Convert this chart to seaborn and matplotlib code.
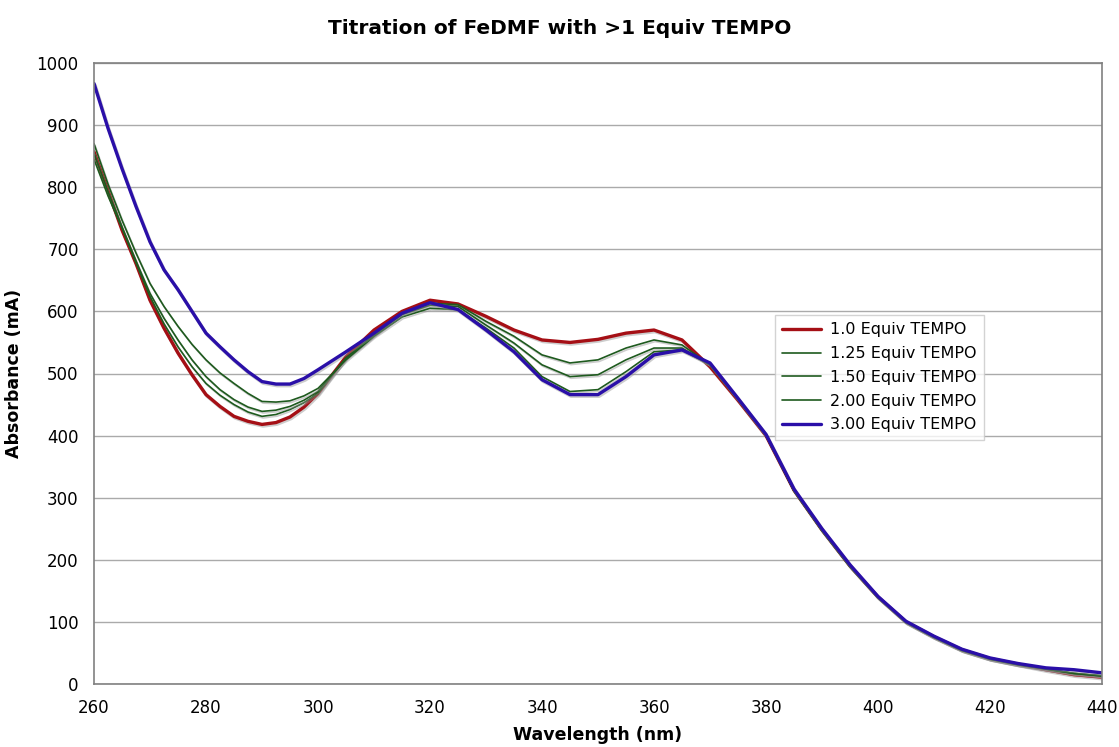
import numpy as np
import pandas as pd
import seaborn as sns
import matplotlib
matplotlib.use("Agg")
import matplotlib.pyplot as plt
import matplotlib.patheffects as pe

wavelength = [260, 262.5, 265, 267.5, 270, 272.5, 275, 277.5, 280, 282.5, 285, 287.5, 290, 292.5, 295, 297.5,
              300, 305, 310, 315, 320, 325, 330, 335, 340, 345, 350, 355, 360, 365, 370, 375, 380, 385, 390,
              395, 400, 405, 410, 415, 420, 425, 430, 435, 440]

equiv_1_00 = [857, 794, 731, 677, 618, 573, 533, 498, 466, 447, 431, 423, 418, 421, 430, 446,
              468, 527, 570, 600, 618, 612, 592, 570, 554, 550, 555, 565, 570, 554, 511, 457, 400, 312, 248,
              190, 140, 100, 76, 55, 41, 32, 23, 15, 11]
equiv_1_25 = [845, 786, 734, 678, 624, 580, 543, 511, 484, 465, 450, 438, 431, 434, 442, 453,
              468, 525, 562, 597, 613, 611, 584, 560, 530, 517, 522, 541, 554, 546, 514, 458, 400, 311, 247,
              189, 139, 99, 75, 54, 40, 31, 24, 17, 13]
equiv_1_50 = [855, 793, 736, 681, 629, 589, 554, 522, 495, 474, 458, 446, 439, 441, 447, 457,
              471, 525, 562, 595, 610, 608, 578, 549, 514, 495, 498, 522, 541, 541, 514, 458, 400, 311, 247,
              189, 139, 99, 75, 54, 40, 31, 24, 17, 13]
equiv_2_00 = [870, 805, 747, 694, 645, 608, 576, 547, 522, 501, 484, 468, 455, 454, 456, 464,
              476, 522, 560, 591, 605, 603, 573, 541, 495, 471, 474, 503, 535, 538, 514, 458, 400, 311, 247,
              189, 139, 99, 75, 54, 40, 31, 24, 17, 13]
equiv_3_00 = [967, 895, 830, 769, 712, 667, 635, 600, 565, 543, 522, 503, 487, 483, 483, 492,
              506, 535, 565, 597, 614, 603, 570, 535, 490, 466, 466, 495, 530, 538, 517, 460, 402, 314, 250,
              192, 141, 101, 77, 56, 42, 33, 26, 23, 18]

series_labels = ["1.0 Equiv TEMPO", "1.25 Equiv TEMPO", "1.50 Equiv TEMPO", "2.00 Equiv TEMPO", "3.00 Equiv TEMPO"]
series_values = [equiv_1_00, equiv_1_25, equiv_1_50, equiv_2_00, equiv_3_00]
series_colors = ["#A50F15", "#1E5A1E", "#1E5A1E", "#1E5A1E", "#2A0FA8"]
series_widths = [2.4, 1.2, 1.2, 1.2, 2.4]

x_ticks = [260, 280, 300, 320, 340, 360, 380, 400, 420, 440]
y_ticks = [0, 100, 200, 300, 400, 500, 600, 700, 800, 900, 1000]

sns.set_style("white")
plt.rcParams['font.family'] = ['DejaVu Sans']
plt.rcParams['text.color'] = 'black'
plt.rcParams['axes.labelcolor'] = 'black'

fig = plt.figure(figsize=(11.19, 7.47), dpi=100)
ax = fig.add_axes([94 / 1119, 1 - 684 / 747, (1102 - 94) / 1119, (684 - 63) / 747])

for lab, vals, col, lw in zip(series_labels, series_values, series_colors, series_widths):
    df = pd.DataFrame({"Wavelength": wavelength, "Absorbance": vals})
    sns.lineplot(data=df, x="Wavelength", y="Absorbance", ax=ax, color=col, linewidth=lw, label=lab,
                 path_effects=[pe.SimpleLineShadow(offset=(0.8, -1.2), shadow_color="#909090", alpha=0.45),
                               pe.Normal()])

ax.set_xlim(260, 440)
ax.set_ylim(0, 1000)
ax.set_xticks(x_ticks)
ax.set_yticks(y_ticks)
ax.tick_params(axis="both", direction="out", length=5, width=1, color="#808080", labelsize=12,
               labelcolor="black", pad=6)
ax.yaxis.grid(True, color="#AAAAAA", linewidth=1.0)
ax.xaxis.grid(False)
ax.set_axisbelow(True)
for s in ax.spines.values():
    s.set_color("#808080")
    s.set_linewidth(1.2)

ax.set_xlabel("Wavelength (nm)", fontsize=12.5, fontweight="bold", labelpad=6, color="black")
ax.set_ylabel("Absorbance (mA)", fontsize=12.5, fontweight="bold", labelpad=10, color="black")
fig.suptitle("Titration of FeDMF with >1 Equiv TEMPO", fontsize=14.5, fontweight="bold", y=0.975,
             color="black")

leg = ax.legend(loc="upper left", bbox_to_anchor=(0.6756, 0.594), frameon=True, fancybox=False,
                fontsize=11.5, handlelength=2.4, borderpad=0.45, labelspacing=0.55, handletextpad=0.6,
                borderaxespad=0)
leg.get_frame().set_edgecolor("#C8C8C8")
leg.get_frame().set_linewidth(1.0)
for t in leg.get_texts():
    t.set_color("black")
for line in leg.get_lines():
    line.set_path_effects([])

fig.savefig("out.png", dpi=100)
